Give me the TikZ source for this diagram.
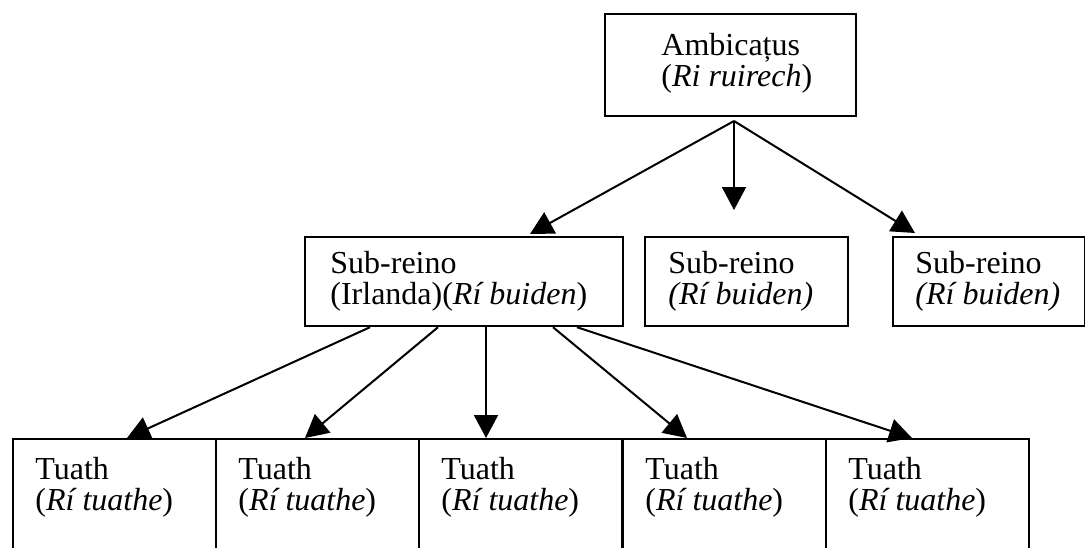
\documentclass[tikz,border=0pt]{standalone}
\usepackage{fontspec}
\setmainfont{Liberation Serif}
\usetikzlibrary{calc, arrows.meta}

\begin{document}
\begin{tikzpicture}[x=0.5pt, y=-0.5pt,
    caja/.style={draw, line width=1.1pt, rectangle, inner sep=0pt, anchor=north west},
    texto/.style={inner sep=0pt, anchor=base west, align=left, font=\fontsize{16}{15.5}\selectfont},
    flecha/.style={line width=1pt, -{Triangle[length=11.5pt, width=12pt]}}]
  \useasboundingbox (0,0) rectangle (1085,547);
  \clip (0,0) rectangle (1085,547);

  \node[caja, minimum width=125.5pt, minimum height=51pt] (rey) at (604,13) {};
  \node[texto] (rey-t) at (661,86) {Ambicațus\\(\textit{Ri ruirech})};
  \coordinate (rey-o) at (734,121);

  \node[caja, minimum width=159pt, minimum height=44.5pt] (sub1) at (304,236) {};
  \node[caja, minimum width=101.5pt, minimum height=44.5pt] (sub2) at (644,236) {};
  \node[caja, minimum width=96pt, minimum height=44.5pt] (sub3) at (892,236) {};
  \node[texto] (sub1-t) at (330,304) {Sub-reino\\(Irlanda)(\textit{Rí buiden})};
  \node[texto] (sub2-t) at (668,304) {Sub-reino\\\textit{(Rí buiden)}};
  \node[texto] (sub3-t) at (915,304) {Sub-reino\\\textit{(Rí buiden)}};
  \coordinate (sub2-p) at (734,210);

  \draw[flecha] (rey-o) -- ($(sub1.north west)+(226,-2)$);
  \draw[flecha] (rey-o) -- (sub2-p);
  \draw[flecha] (rey-o) -- ($(sub3.north west)+(23,-3)$);

  \foreach \x [count=\i] in {12,215,418,622,825} {
      \node[caja, minimum width=101.5pt, minimum height=60pt] (t\i) at (\x,438) {};
      \node[texto] (t\i-t) at (\x+23,510) {Tuath\\(\textit{Rí tuathe})};
  }

  \foreach \ox/\n/\tx in {66/1/115, 134/2/90, 182/3/68, 249/4/65, 273/5/87} {
      \draw[flecha] ($(sub1.south west)+(\ox,0)$) -- ($(t\n.north west)+(\tx,0)$);
  }
\end{tikzpicture}
\end{document}
